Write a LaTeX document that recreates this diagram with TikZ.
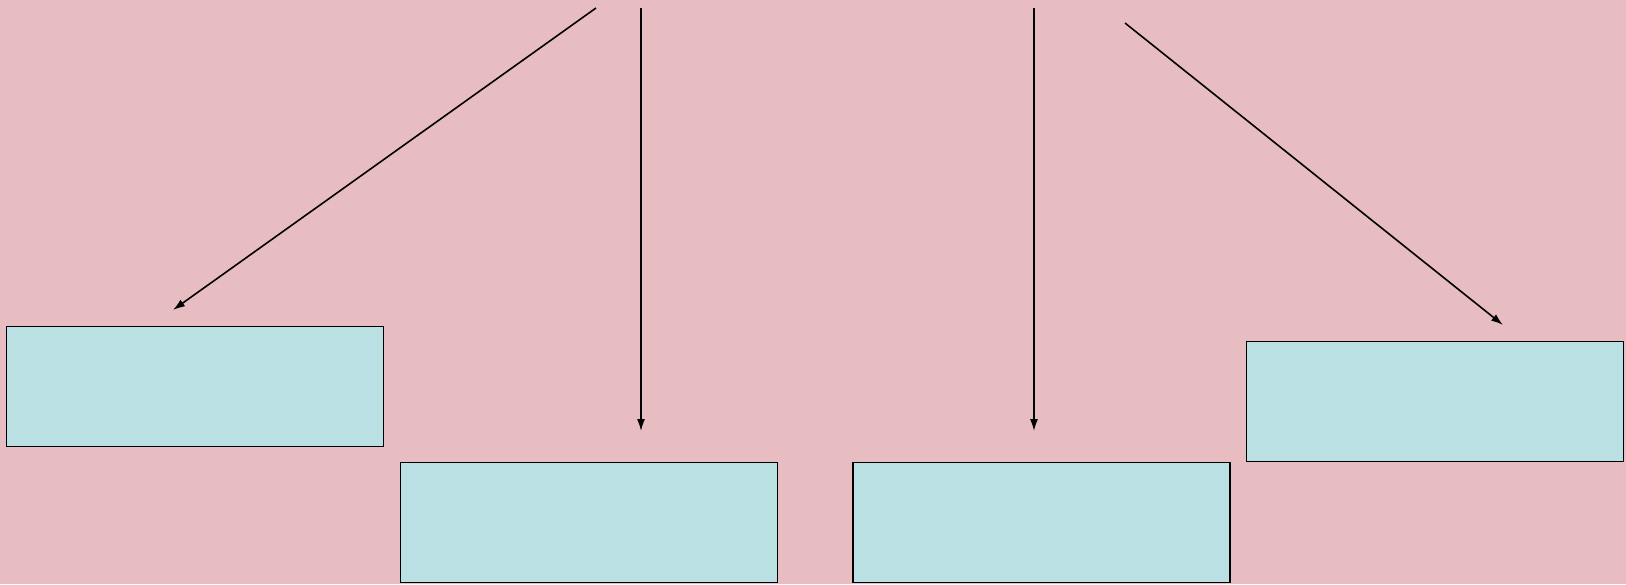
\documentclass[tikz,border=0pt]{standalone}
\usetikzlibrary{arrows.meta}
\definecolor{bgpink}{HTML}{E8BDC1}
\definecolor{boxcyan}{HTML}{BAE0E3}
\tikzset{
  box/.style={draw=black, fill=boxcyan, line width=1.9pt, minimum width=377pt, minimum height=120pt, inner sep=0pt, outer sep=0pt},
  conn/.style={draw=black, line width=1.6pt, -{Latex[length=12pt,width=8pt]}}
}
\begin{document}
\begin{tikzpicture}[x=1pt,y=-1pt]
\fill[bgpink] (0,0) rectangle (1626,584);
\useasboundingbox (0,0) rectangle (1626,584);
\node[box] (b1) at (195,386.5) {};
\node[box] (b2) at (589,522.5) {};
\node[box] (b3) at (1041.5,522.5) {};
\node[box] (b4) at (1435,401.5) {};
\coordinate (s1) at (596,8);
\coordinate (s2) at (641,8);
\coordinate (s3) at (1034,8);
\coordinate (s4) at (1125,23);
\coordinate (e1) at (173,310);
\coordinate (e2) at (641,431);
\coordinate (e3) at (1034,431);
\coordinate (e4) at (1503,325);
\draw[conn] (s1) -- (e1);
\draw[conn] (s2) -- (e2);
\draw[conn] (s3) -- (e3);
\draw[conn] (s4) -- (e4);
\end{tikzpicture}
\end{document}
